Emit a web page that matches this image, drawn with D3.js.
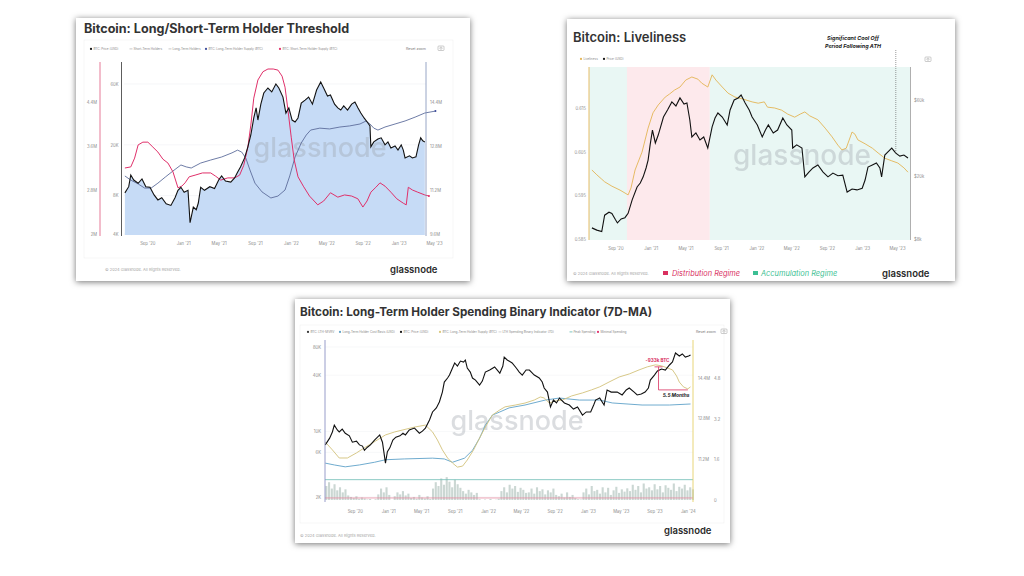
<!DOCTYPE html>
<html>
<head>
<meta charset="utf-8">
<script src="https://cdn.jsdelivr.net/npm/d3@7"></script>
<style>
  body { margin: 0; background: #fff; }
  svg { display: block; font-family: Inter, "Noto Sans", sans-serif; }
</style>
</head>
<body>
<svg id="chart" width="1024" height="576"></svg>
<script>
// ---------- panel 1 : Long/Short-Term Holder Threshold ----------
var p1Price = [["2020-06-17",8400],["2020-06-30",9400],["2020-07-07",11600],["2020-07-17",10600],["2020-08-01",10000],["2020-08-14",10800],["2020-08-27",9400],["2020-09-10",9300],["2020-09-24",8100],["2020-10-07",7400],["2020-10-20",7700],["2020-11-04",6900],["2020-11-20",6700],["2020-12-04",7700],["2020-12-14",8800],["2020-12-24",9300],["2021-01-04",8500],["2021-01-17",8800],["2021-01-24",4900],["2021-02-04",6500],["2021-02-14",6200],["2021-02-21",7000],["2021-03-01",9300],["2021-03-14",8800],["2021-04-01",9400],["2021-04-17",9100],["2021-05-01",10600],["2021-05-11",11400],["2021-05-24",10400],["2021-06-11",10200],["2021-06-24",11000],["2021-07-04",12200],["2021-07-14",13400],["2021-07-28",15800],["2021-08-08",19300],["2021-08-18",23900],["2021-08-28",32500],["2021-09-05",39000],["2021-09-11",31300],["2021-09-21",41700],["2021-10-01",51000],["2021-10-15",55800],["2021-10-28",52000],["2021-11-11",60000],["2021-11-21",55800],["2021-12-05",47400],["2021-12-15",35500],["2021-12-25",39000],["2022-01-05",31300],["2022-01-15",30200],["2022-01-25",32500],["2022-02-05",42500],["2022-02-18",44900],["2022-03-02",47400],["2022-03-15",41700],["2022-03-29",53800],["2022-04-12",62200],["2022-04-22",55800],["2022-05-05",48300],["2022-05-15",49200],["2022-05-29",41700],["2022-06-09",39000],["2022-06-19",37500],["2022-06-29",40400],["2022-07-12",37500],["2022-07-26",41700],["2022-08-06",43300],["2022-08-16",39000],["2022-08-26",35500],["2022-09-06",32500],["2022-09-19",29700],["2022-09-26",28100],["2022-09-29",19300],["2022-10-09",21100],["2022-10-23",22200],["2022-11-03",22700],["2022-11-16",20000],["2022-11-26",21100],["2022-12-06",18900],["2022-12-20",19600],["2022-12-30",18200],["2023-01-10",20000],["2023-01-17",18200],["2023-01-23",15800],["2023-02-07",16400],["2023-02-17",15800],["2023-03-01",16100],["2023-03-10",20000],["2023-03-17",22700],["2023-03-24",21500],["2023-03-31",21100]];
var p1LthSupply = [["2020-06-17",11.71],["2020-07-07",11.56],["2020-08-01",11.42],["2020-08-23",11.27],["2020-09-14",11.27],["2020-10-07",11.45],["2020-11-01",11.67],["2020-11-27",11.89],["2020-12-24",12.11],["2021-01-11",12.04],["2021-01-28",12.00],["2021-03-01",12.18],["2021-04-04",12.29],["2021-05-11",12.40],["2021-06-15",12.55],["2021-07-04",12.65],["2021-07-18",12.58],["2021-08-01",12.36],["2021-08-15",11.93],["2021-09-01",11.45],["2021-09-25",11.13],["2021-10-25",10.91],["2021-11-18",10.98],["2021-12-12",11.20],["2021-12-28",11.71],["2022-01-15",12.40],["2022-02-05",12.91],["2022-02-22",13.20],["2022-03-09",13.38],["2022-04-09",13.45],["2022-05-12",13.42],["2022-06-16",13.49],["2022-07-19",13.53],["2022-08-23",13.60],["2022-09-13",13.71],["2022-09-26",13.60],["2022-10-09",13.45],["2022-10-23",13.38],["2022-11-16",13.49],["2022-12-20",13.60],["2023-01-23",13.71],["2023-02-26",13.85],["2023-03-31",14.00],["2023-05-06",14.07]];
var p1SthSupply = [["2020-06-17",3.20],["2020-07-07",3.22],["2020-07-20",3.38],["2020-08-01",3.62],["2020-08-17",3.67],["2020-09-03",3.67],["2020-09-20",3.58],["2020-10-07",3.49],["2020-10-24",3.36],["2020-11-10",3.29],["2020-11-27",3.13],["2020-12-14",2.84],["2020-12-27",2.87],["2021-01-07",2.93],["2021-01-21",3.04],["2021-02-10",3.07],["2021-03-07",3.11],["2021-04-04",3.11],["2021-04-21",3.05],["2021-05-08",2.98],["2021-06-01",3.02],["2021-06-24",3.02],["2021-07-11",3.07],["2021-07-25",3.25],["2021-08-08",3.58],["2021-08-18",3.98],["2021-08-28",4.47],["2021-09-11",4.80],["2021-09-28",4.95],["2021-10-15",5.00],["2021-11-02",5.00],["2021-11-18",4.98],["2021-12-02",4.87],["2021-12-12",4.67],["2021-12-22",4.25],["2022-01-02",3.76],["2022-01-12",3.35],["2022-01-25",3.04],["2022-02-12",2.87],["2022-03-05",2.69],["2022-04-02",2.53],["2022-04-22",2.60],["2022-05-15",2.75],["2022-06-09",2.67],["2022-07-02",2.71],["2022-07-26",2.69],["2022-08-16",2.64],["2022-09-02",2.49],["2022-09-16",2.60],["2022-09-29",2.76],["2022-10-16",2.85],["2022-10-30",2.93],["2022-11-16",2.87],["2022-12-06",2.76],["2022-12-26",2.64],["2023-01-17",2.56],["2023-01-27",2.53],["2023-02-03",2.85],["2023-02-17",2.80],["2023-03-07",2.76],["2023-03-31",2.71],["2023-04-14",2.69]];
var p1DateTicks = ["2020-09-01","2021-01-01","2021-05-01","2021-09-01","2022-01-01","2022-05-01","2022-09-01","2023-01-01","2023-05-01"];
var p1PriceTicks = [4000, 8000, 20000, 60000];
var p1SthTicks = [2, 2.8, 3.6, 4.4];
var p1LthTicks = [9.6, 11.2, 12.8, 14.4];

// ---------- panel 2 : Liveliness ----------
var p2Price = [["2020-06-12",9400],["2020-06-29",9100],["2020-07-16",8900],["2020-07-26",11300],["2020-08-10",11800],["2020-08-20",11600],["2020-09-01",10600],["2020-09-08",10100],["2020-09-21",10700],["2020-10-04",10900],["2020-10-15",11600],["2020-10-29",14100],["2020-11-15",17000],["2020-11-26",18000],["2020-12-06",19700],["2020-12-16",22400],["2020-12-23",25100],["2020-12-30",31300],["2021-01-07",38800],["2021-01-17",32200],["2021-01-27",36100],["2021-02-14",46900],["2021-02-28",51900],["2021-03-15",58300],["2021-03-29",55000],["2021-04-12",61800],["2021-04-26",56600],["2021-05-06",57500],["2021-05-16",44900],["2021-05-23",35100],["2021-06-06",37200],["2021-06-20",33600],["2021-07-03",35100],["2021-07-17",29900],["2021-08-01",40600],["2021-08-11",46200],["2021-08-21",49700],["2021-09-05",46900],["2021-09-22",41800],["2021-10-02",51900],["2021-10-16",60000],["2021-10-30",61800],["2021-11-09",64500],["2021-11-23",57500],["2021-12-07",51900],["2021-12-17",46900],["2022-01-04",41800],["2022-01-21",35100],["2022-02-01",38800],["2022-02-11",41800],["2022-02-28",37200],["2022-03-15",38800],["2022-04-02",46200],["2022-04-16",41800],["2022-05-03",38800],["2022-05-06",29900],["2022-05-20",31300],["2022-06-07",29900],["2022-06-17",19700],["2022-07-01",21100],["2022-07-15",22400],["2022-08-01",23400],["2022-08-19",21100],["2022-09-05",19700],["2022-09-22",20800],["2022-10-09",20000],["2022-10-26",20200],["2022-11-10",15800],["2022-11-27",16500],["2022-12-14",16300],["2023-01-01",16700],["2023-01-11",18800],["2023-01-21",22700],["2023-02-05",23400],["2023-02-19",24100],["2023-03-03",22400],["2023-03-09",19700],["2023-03-20",27000],["2023-03-30",28200],["2023-04-13",29900],["2023-04-27",27800],["2023-05-11",26600],["2023-05-25",27000],["2023-06-08",25900]];
var p2Liveliness = [["2020-06-12",0.6008],["2020-06-29",0.5997],["2020-07-16",0.5987],["2020-07-26",0.5981],["2020-08-20",0.5971],["2020-09-17",0.5962],["2020-10-15",0.5951],["2020-10-25",0.5967],["2020-11-08",0.6008],["2020-12-02",0.6049],["2020-12-23",0.6104],["2021-01-09",0.6139],["2021-01-27",0.6157],["2021-02-20",0.6175],["2021-03-07",0.6182],["2021-03-24",0.6191],["2021-04-12",0.6198],["2021-05-02",0.6214],["2021-05-23",0.6221],["2021-06-13",0.6216],["2021-06-26",0.6207],["2021-07-17",0.6198],["2021-08-01",0.6226],["2021-08-14",0.6214],["2021-09-05",0.6198],["2021-09-25",0.6184],["2021-10-19",0.6175],["2021-11-13",0.6171],["2021-12-17",0.6164],["2022-01-07",0.6161],["2022-01-28",0.6164],["2022-02-08",0.6152],["2022-03-05",0.6150],["2022-03-29",0.6145],["2022-04-19",0.6136],["2022-05-13",0.6129],["2022-06-01",0.6136],["2022-06-17",0.6141],["2022-07-04",0.6132],["2022-08-01",0.6123],["2022-08-26",0.6104],["2022-09-19",0.6084],["2022-10-09",0.6065],["2022-10-23",0.6054],["2022-11-07",0.6058],["2022-11-27",0.6095],["2022-12-07",0.6090],["2022-12-17",0.6077],["2023-01-11",0.6068],["2023-02-05",0.6058],["2023-02-25",0.6047],["2023-03-20",0.6035],["2023-04-13",0.6029],["2023-05-04",0.6024],["2023-05-25",0.6013],["2023-06-08",0.6003]];
var p2RegimeStart = ["2020-06-02", "2020-10-11", "2021-07-24"];
var p2RegimeEnd = ["2020-10-11", "2021-07-24", "2023-06-15"];
var p2RegimeType = ["accumulation", "distribution", "accumulation"];
var p2CoolOffDate = "2023-04-27";
var p2DateTicks = p1DateTicks;
var p2LiveTicks = [0.585, 0.595, 0.605, 0.615];
var p2PriceTicks = [8000, 20000, 60000];

// ---------- panel 3 : LTH Spending Binary Indicator ----------
var p3Price = [["2020-05-16",7200],["2020-06-01",8500],["2020-06-11",9900],["2020-06-18",11700],["2020-06-29",10400],["2020-07-06",9900],["2020-07-17",10600],["2020-07-28",9600],["2020-08-12",9000],["2020-08-23",7700],["2020-09-07",7900],["2020-09-18",7200],["2020-09-29",7000],["2020-10-06",6300],["2020-10-17",6800],["2020-10-28",7200],["2020-11-12",8100],["2020-12-01",9200],["2020-12-11",7700],["2020-12-22",4600],["2020-12-29",6100],["2021-01-07",6700],["2021-01-18",8100],["2021-01-29",8700],["2021-02-13",9000],["2021-02-24",9600],["2021-03-05",9200],["2021-03-19",10400],["2021-04-07",10900],["2021-04-25",9600],["2021-05-06",10100],["2021-05-17",10900],["2021-06-01",13300],["2021-06-12",16200],["2021-06-26",17900],["2021-07-07",20700],["2021-07-18",26400],["2021-07-25",33800],["2021-08-06",37300],["2021-08-13",40100],["2021-08-24",47700],["2021-09-01",54000],["2021-09-11",50100],["2021-09-22",56600],["2021-10-03",55300],["2021-10-10",58100],["2021-10-17",47700],["2021-10-28",43200],["2021-11-05",37300],["2021-11-16",35500],["2021-12-01",31400],["2021-12-11",34600],["2021-12-22",43200],["2022-01-07",45400],["2022-01-25",48900],["2022-02-13",42100],["2022-02-24",50100],["2022-03-01",62500],["2022-03-12",58100],["2022-03-30",54000],["2022-04-14",47700],["2022-04-25",43200],["2022-05-06",40100],["2022-05-20",45400],["2022-06-01",45400],["2022-06-19",40100],["2022-07-07",37300],["2022-07-18",33800],["2022-07-25",29200],["2022-08-06",26400],["2022-08-17",18300],["2022-08-28",21700],["2022-09-08",20200],["2022-09-19",22800],["2022-10-07",20200],["2022-10-25",19200],["2022-11-09",17400],["2022-11-24",18300],["2022-12-12",15000],["2022-12-26",16200],["2023-01-11",16200],["2023-01-22",19200],["2023-01-29",21700],["2023-02-13",22800],["2023-03-01",19200],["2023-03-12",27800],["2023-03-27",26400],["2023-04-18",26400],["2023-05-06",24600],["2023-05-21",27800],["2023-06-01",29200],["2023-06-19",26400],["2023-06-30",24600],["2023-07-15",25200],["2023-07-29",26400],["2023-08-10",29200],["2023-08-17",35500],["2023-09-01",40100],["2023-09-12",44300],["2023-09-27",46600],["2023-10-11",45400],["2023-10-26",51400],["2023-11-06",55300],["2023-11-17",69100],["2023-12-01",64100],["2023-12-12",67400],["2023-12-23",62500],["2024-01-04",64100],["2024-01-11",65700]];
var p3CostBasis = [["2020-05-16",4600],["2020-06-18",4400],["2020-07-28",4200],["2020-09-18",4400],["2020-11-12",4700],["2020-12-22",5000],["2021-03-01",5100],["2021-06-12",5200],["2021-07-25",5100],["2021-08-24",4700],["2021-10-07",5200],["2021-11-05",6300],["2021-12-01",8500],["2021-12-22",11700],["2022-01-17",15000],["2022-02-13",16200],["2022-03-19",17900],["2022-05-16",19200],["2022-07-29",21700],["2022-09-19",22800],["2022-12-01",21700],["2023-02-13",21700],["2023-03-31",20200],["2023-07-18",19200],["2023-10-26",19200],["2024-01-11",19700]];
var p3LthSupply = [["2020-05-16",11.87],["2020-06-11",11.56],["2020-07-06",11.24],["2020-08-05",11.24],["2020-09-07",11.44],["2020-10-10",11.67],["2020-11-16",11.91],["2020-12-22",12.15],["2021-01-25",12.27],["2021-02-24",12.35],["2021-04-07",12.46],["2021-05-17",12.54],["2021-06-12",12.27],["2021-06-30",11.95],["2021-07-18",11.56],["2021-08-06",11.24],["2021-08-24",11.04],["2021-09-11",10.88],["2021-09-30",10.92],["2021-10-17",11.16],["2021-11-09",11.56],["2021-12-01",12.03],["2021-12-26",12.54],["2022-01-17",12.94],["2022-02-13",13.14],["2022-03-04",13.26],["2022-04-10",13.33],["2022-05-16",13.41],["2022-06-19",13.53],["2022-07-11",13.65],["2022-07-25",13.61],["2022-08-13",13.41],["2022-09-04",13.49],["2022-09-30",13.53],["2022-11-02",13.69],["2022-12-12",13.81],["2023-01-14",13.93],["2023-02-13",14.05],["2023-03-19",14.24],["2023-04-25",14.44],["2023-06-01",14.56],["2023-07-07",14.72],["2023-08-06",14.84],["2023-09-05",14.92],["2023-09-27",14.88],["2023-10-18",14.80],["2023-11-06",14.72],["2023-11-21",14.48],["2023-12-01",14.24],["2023-12-16",14.05],["2024-01-01",13.97],["2024-01-11",14.05]];
// spending indicator, one value every 10 days from the first date
var p3IndicatorStart = "2020-05-16";
var p3IndicatorStepDays = 10;
var p3Indicator = [0.55,0.7,0.45,0.62,0.38,0.5,0.3,0.42, 0.18,0.12, 0.08,0.15,0.05,0.1,0.06, 0.02,0.04,0.0,0.03, 0.22,0.45,0.3,0.5,0.2, 0.0, 0.15,0.3,0.22,0.35,0.18,0.25, 0.08,0.12,0.05,0.2,0.1,0.06,0.15,0.04, 0.45,0.7,0.55,0.85,0.6,0.9,0.72,0.5,0.8,0.62,0.48, 0.35,0.25,0.4,0.3,0.2,0.28, 0.03,0.0,0.02,0.0,0.04,0.0,0.01,0.05, 0.35,0.5,0.3,0.6,0.45,0.55,0.32,0.48,0.4,0.28, 0.3,0.45,0.25,0.5,0.35,0.42,0.22,0.38,0.3,0.45,0.2, 0.15,0.25,0.1,0.3,0.12,0.2,0.08, 0.03,0.02, 0.3,0.45,0.22,0.55,0.35,0.4,0.25,0.5,0.3,0.48,0.2,0.38,0.52,0.28,0.42,0.33,0.46, 0.35,0.6,0.4,0.55,0.3,0.65,0.45,0.5,0.38,0.62,0.42,0.55,0.3,0.58,0.48,0.4,0.65,0.35,0.52,0.45,0.6,0.38,0.5,0.42];
var p3PeakSpending = 0.8;
var p3MinimalSpending = 0.08;
var p3DrawdownDates = ["2023-09-16", "2024-01-01"];
var p3DrawdownSupply = [14.84, 13.93];
var p3DrawdownLabel = "-933k BTC";
var p3DurationLabel = "5.5 Months";
var p3DateTicks = ["2020-09-01","2021-01-01","2021-05-01","2021-09-01","2022-01-01","2022-05-01","2022-09-01","2023-01-01","2023-05-01","2023-09-01","2024-01-01"];
var p3PriceTicks = [2000, 6000, 10000, 40000, 80000];
var p3SupplyTicks = [11.2, 12.8, 14.4];
var p3IndTicks = [0, 1.6, 3.2, 4.8];

// ---------------------------------------------------------------
var parse = d3.timeParse("%Y-%m-%d");
var fmtMonth = d3.timeFormat("%b '%y");
var fmtK = function (v) { return (v / 1000) + "K"; };
var fmtM = function (v) { return v + "M"; };

var svg = d3.select("#chart");
var defs = svg.append("defs");
var shadow = defs.append("filter").attr("id", "shadow")
  .attr("x", "-10%").attr("y", "-10%").attr("width", "120%").attr("height", "120%");
shadow.append("feDropShadow").attr("dx", 0).attr("dy", 1).attr("stdDeviation", 3)
  .attr("flood-color", "#000").attr("flood-opacity", 0.55);

function card(x, y, w, h) {
  svg.append("rect").attr("x", x).attr("y", y).attr("width", w).attr("height", h)
    .attr("fill", "#fff").attr("filter", "url(#shadow)");
  return svg.append("g");
}

function title(g, x, y, size, weight, txt) {
  g.append("text").attr("x", x).attr("y", y).attr("font-size", size)
    .attr("font-weight", weight).attr("fill", "#333").text(txt);
}

function legend(g, items, y) {
  var it = g.selectAll("g.lg").data(items).join("g").attr("class", "lg")
    .attr("transform", function (d) { return "translate(" + d.x + "," + y + ")"; });
  it.filter(function (d) { return d.kind === "dot"; }).append("circle")
    .attr("cy", -1.1).attr("r", 1.1).attr("fill", function (d) { return d.color; });
  it.filter(function (d) { return d.kind === "dash"; }).append("line")
    .attr("x1", -1.5).attr("x2", 1.5).attr("y1", -1.1).attr("y2", -1.1)
    .attr("stroke", function (d) { return d.color; }).attr("stroke-width", 0.8);
  it.append("text").attr("x", 2.4).attr("font-size", 3.1).attr("fill", "#888")
    .text(function (d) { return d.text; });
}

function camera(g, x, y) {
  g.append("rect").attr("x", x - 3).attr("y", y - 3).attr("width", 6).attr("height", 4.5)
    .attr("rx", 0.8).attr("fill", "none").attr("stroke", "#999").attr("stroke-width", 0.5);
  g.append("circle").attr("cx", x).attr("cy", y - 0.8).attr("r", 1.1)
    .attr("fill", "none").attr("stroke", "#999").attr("stroke-width", 0.5);
}

function styleAxis(a, size) {
  a.select(".domain").remove();
  a.selectAll("text").attr("font-size", size).attr("fill", "#8a8a8a")
    .attr("font-family", "Inter, 'Noto Sans', sans-serif");
}

function bottomAxis(g, x, ticks, y) {
  var a = g.append("g").attr("transform", "translate(0," + y + ")")
    .call(d3.axisBottom(x).tickValues(ticks.map(parse)).tickFormat(fmtMonth).tickSize(0).tickPadding(0));
  styleAxis(a, 4.2);
}

function sideAxis(g, kind, scale, ticks, fmt, x, pad) {
  var ax = (kind === "left" ? d3.axisLeft(scale) : d3.axisRight(scale))
    .tickValues(ticks).tickFormat(fmt).tickSize(0).tickPadding(pad);
  var a = g.append("g").attr("transform", "translate(" + x + ",0)").call(ax);
  styleAxis(a, 4.2);
}

function vline(g, x, y0, y1, color, w) {
  g.append("line").attr("x1", x).attr("x2", x).attr("y1", y0).attr("y2", y1)
    .attr("stroke", color).attr("stroke-width", w || 1);
}

function watermark(g, cx, cy, size) {
  g.append("text").attr("x", cx).attr("y", cy).attr("text-anchor", "middle")
    .attr("font-size", size).attr("font-weight", 500).attr("fill", "#9aa0a8")
    .attr("opacity", 0.35).text("glassnode");
}

function footer(g, x, y, lx, ly) {
  g.append("text").attr("x", x).attr("y", y).attr("font-size", 4).attr("fill", "#a5a5a5")
    .text("\u00a9 2024 Glassnode. All Rights Reserved.");
  g.append("text").attr("x", lx).attr("y", ly).attr("font-size", 9.5).attr("font-weight", 600)
    .attr("fill", "#2a2a2a").text("glassnode");
}

function lineOf(x, y) {
  return d3.line().x(function (d) { return x(parse(d[0])); }).y(function (d) { return y(d[1]); });
}

// ======================= PANEL 1 =======================
(function () {
  var g = card(76, 18, 394, 263);
  g.append("rect").attr("x", 84).attr("y", 40).attr("width", 369).attr("height", 218)
    .attr("fill", "none").attr("stroke", "#f0f0f0").attr("stroke-width", 0.6);
  title(g, 84, 33, 12.6, 700, "Bitcoin: Long/Short-Term Holder Threshold");
  legend(g, [
    { x: 91, kind: "dot", color: "#111", text: "BTC: Price (USD)" },
    { x: 131, kind: "dash", color: "#bbb", text: "Short-Term Holders" },
    { x: 170, kind: "dash", color: "#bbb", text: "Long-Term Holders" },
    { x: 206, kind: "dot", color: "#3b4a9a", text: "BTC: Long-Term Holder Supply (BTC)" },
    { x: 280, kind: "dot", color: "#e0306a", text: "BTC: Short-Term Holder Supply (BTC)" }
  ], 50);
  g.append("text").attr("x", 406).attr("y", 50).attr("font-size", 3.6).attr("fill", "#777").text("Reset zoom");
  camera(g, 441, 49);

  var x = d3.scaleTime().domain([parse("2020-06-14"), parse("2023-04-04")]).range([124, 426]);
  var yPrice = d3.scaleLog().domain([4000, 60000]).range([234, 84]);
  var ySth = d3.scaleLinear().domain([2, 4.4]).range([234, 102]);
  var yLth = d3.scaleLinear().domain([9.6, 14.4]).range([234, 102]);

  g.append("g").selectAll("line").data(p1PriceTicks).join("line")
    .attr("x1", 124).attr("x2", 426)
    .attr("y1", function (d) { return yPrice(d); }).attr("y2", function (d) { return yPrice(d); })
    .attr("stroke", "#eef0f3").attr("stroke-width", 0.6);

  g.append("path").datum(p1Price)
    .attr("d", d3.area().x(function (d) { return x(parse(d[0])); }).y0(235).y1(function (d) { return yPrice(d[1]); }))
    .attr("fill", "#c6dbf6");

  watermark(g, 320, 157, 27);

  g.append("path").datum(p1LthSupply).attr("d", lineOf(x, yLth))
    .attr("fill", "none").attr("stroke", "#5d6d9c").attr("stroke-width", 0.9);
  g.append("path").datum(p1SthSupply).attr("d", lineOf(x, ySth))
    .attr("fill", "none").attr("stroke", "#e0306a").attr("stroke-width", 1);
  g.append("path").datum(p1Price).attr("d", lineOf(x, yPrice))
    .attr("fill", "none").attr("stroke", "#111").attr("stroke-width", 1.1);

  var lastL = p1LthSupply[p1LthSupply.length - 1];
  g.append("circle").attr("cx", x(parse(lastL[0]))).attr("cy", yLth(lastL[1])).attr("r", 1)
    .attr("fill", "#3b4a9a");
  var lastS = p1SthSupply[p1SthSupply.length - 1];
  g.append("circle").attr("cx", x(parse(lastS[0]))).attr("cy", ySth(lastS[1])).attr("r", 1)
    .attr("fill", "#e0306a");

  vline(g, 100, 62, 236, "#e0587f", 0.8);
  vline(g, 121.5, 62, 236, "#333", 0.8);
  vline(g, 426, 62, 236, "#7f8fb8", 0.8);

  sideAxis(g, "left", ySth, p1SthTicks, fmtM, 100, 3);
  sideAxis(g, "left", yPrice, p1PriceTicks, fmtK, 121, 2.5);
  sideAxis(g, "right", yLth, p1LthTicks, fmtM, 426, 4);
  bottomAxis(g, x, p1DateTicks, 242);

  footer(g, 105, 271, 390, 273);
})();

// ======================= PANEL 2 =======================
(function () {
  var g = card(567, 19, 388, 262);
  title(g, 573, 42, 13, 600, "Bitcoin: Liveliness");
  g.append("text").attr("x", 853).attr("y", 40).attr("text-anchor", "middle").attr("font-size", 5.4)
    .attr("font-weight", 700).attr("font-style", "italic").attr("fill", "#222").text("Significant Cool Off");
  g.append("text").attr("x", 853).attr("y", 47.5).attr("text-anchor", "middle").attr("font-size", 5.4)
    .attr("font-weight", 700).attr("font-style", "italic").attr("fill", "#222").text("Period Following ATH");
  legend(g, [
    { x: 581, kind: "dot", color: "#e3b455", text: "Liveliness" },
    { x: 604, kind: "dot", color: "#111", text: "Price (USD)" }
  ], 60);
  camera(g, 928, 60);

  var x = d3.scaleTime().domain([parse("2020-06-02"), parse("2023-06-15")]).range([589, 910]);
  var yLive = d3.scaleLinear().domain([0.585, 0.615]).range([239, 108]);
  var yPrice = d3.scaleLog().domain([8000, 60000]).range([239, 100]);

  var regimeColor = { accumulation: "#e9f7f4", distribution: "#fde9ec" };
  g.append("g").selectAll("rect").data(p2RegimeType).join("rect")
    .attr("x", function (d, i) { return x(parse(p2RegimeStart[i])); })
    .attr("width", function (d, i) { return x(parse(p2RegimeEnd[i])) - x(parse(p2RegimeStart[i])); })
    .attr("y", 67).attr("height", 173)
    .attr("fill", function (d) { return regimeColor[d]; });

  watermark(g, 802, 165, 28);

  g.append("path").datum(p2Liveliness).attr("d", lineOf(x, yLive))
    .attr("fill", "none").attr("stroke", "#e3b455").attr("stroke-width", 0.9);
  g.append("path").datum(p2Price).attr("d", lineOf(x, yPrice))
    .attr("fill", "none").attr("stroke", "#111").attr("stroke-width", 1.1);

  var cd = parse(p2CoolOffDate);
  var cp = p2Price.find(function (d) { return d[0] === p2CoolOffDate; });
  g.append("line").attr("x1", x(cd)).attr("x2", x(cd)).attr("y1", 50).attr("y2", yPrice(cp[1]))
    .attr("stroke", "#555").attr("stroke-width", 0.6).attr("stroke-dasharray", "1,1");

  vline(g, 589, 67, 240, "#e3b455", 0.9);
  vline(g, 910.5, 67, 240, "#9a9a9a", 0.8);

  sideAxis(g, "left", yLive, p2LiveTicks, d3.format(".3f"), 589, 3);
  sideAxis(g, "right", yPrice, p2PriceTicks, function (v) { return "$" + (v / 1000) + "k"; }, 910, 4);
  bottomAxis(g, x, p2DateTicks, 247);

  g.append("text").attr("x", 573).attr("y", 275).attr("font-size", 4).attr("fill", "#a5a5a5")
    .text("\u00a9 2024 Glassnode. All Rights Reserved.");
  g.append("rect").attr("x", 663).attr("y", 271).attr("width", 5).attr("height", 4).attr("fill", "#d9305f");
  g.append("text").attr("x", 672).attr("y", 276).attr("font-size", 7.4).attr("font-style", "italic")
    .attr("fill", "#d9305f").text("Distribution Regime");
  g.append("rect").attr("x", 753).attr("y", 271).attr("width", 5).attr("height", 4).attr("fill", "#3cbf94");
  g.append("text").attr("x", 761).attr("y", 276).attr("font-size", 7.4).attr("font-style", "italic")
    .attr("fill", "#3cbf94").text("Accumulation Regime");
  g.append("text").attr("x", 882).attr("y", 277).attr("font-size", 9.5).attr("font-weight", 600)
    .attr("fill", "#2a2a2a").text("glassnode");
})();

// ======================= PANEL 3 =======================
(function () {
  var g = card(295, 299, 435, 244);
  g.append("rect").attr("x", 300).attr("y", 325).attr("width", 424).attr("height", 198)
    .attr("fill", "none").attr("stroke", "#f0f0f0").attr("stroke-width", 0.6);
  title(g, 300, 316, 11.7, 700, "Bitcoin: Long-Term Holder Spending Binary Indicator (7D-MA)");
  legend(g, [
    { x: 308, kind: "dot", color: "#333", text: "BTC: LTH-MVRV" },
    { x: 340, kind: "dot", color: "#5fa2c8", text: "Long-Term Holder Cost Basis (USD)" },
    { x: 401, kind: "dot", color: "#111", text: "BTC: Price (USD)" },
    { x: 440, kind: "dot", color: "#d9c77a", text: "BTC: Long-Term Holder Supply (BTC)" },
    { x: 500, kind: "dash", color: "#ccc", text: "LTH Spending Binary Indicator (7D)" },
    { x: 571, kind: "dash", color: "#5fb8b0", text: "Peak Spending" },
    { x: 598, kind: "dot", color: "#e0306a", text: "Minimal Spending" }
  ], 333);
  g.append("text").attr("x", 696).attr("y", 333).attr("font-size", 3.6).attr("fill", "#777").text("Reset zoom");
  camera(g, 724, 332);

  var x = d3.scaleTime().domain([parse("2020-05-15"), parse("2024-01-20")]).range([325, 693]);
  var yPrice = d3.scaleLog().domain([2000, 80000]).range([497, 347]);
  var ySupply = d3.scaleLinear().domain([11.2, 14.4]).range([459, 378]);
  var yInd = d3.scaleLinear().domain([0, 4.8]).range([500, 378]);

  g.append("g").selectAll("line").data(p3PriceTicks).join("line")
    .attr("x1", 325).attr("x2", 693)
    .attr("y1", function (d) { return yPrice(d); }).attr("y2", function (d) { return yPrice(d); })
    .attr("stroke", "#f2f3f5").attr("stroke-width", 0.6);

  var start = parse(p3IndicatorStart);
  g.append("g").selectAll("rect").data(p3Indicator).join("rect")
    .attr("x", function (d, i) { return x(d3.timeDay.offset(start, i * p3IndicatorStepDays)); })
    .attr("width", 2.1)
    .attr("y", function (d) { return yInd(d); })
    .attr("height", function (d) { return yInd(0) - yInd(d); })
    .attr("fill", "#cbd7d3");

  watermark(g, 517, 430, 27);

  g.append("line").attr("x1", 325).attr("x2", 693).attr("y1", yInd(p3PeakSpending)).attr("y2", yInd(p3PeakSpending))
    .attr("stroke", "#6dbdb5").attr("stroke-width", 0.8);
  g.append("line").attr("x1", 325).attr("x2", 693).attr("y1", yInd(p3MinimalSpending)).attr("y2", yInd(p3MinimalSpending))
    .attr("stroke", "#e48aa0").attr("stroke-width", 0.8);

  g.append("path").datum(p3CostBasis).attr("d", lineOf(x, yPrice))
    .attr("fill", "none").attr("stroke", "#5fa2c8").attr("stroke-width", 0.9);
  g.append("path").datum(p3LthSupply).attr("d", lineOf(x, ySupply))
    .attr("fill", "none").attr("stroke", "#d3c27a").attr("stroke-width", 0.9);
  g.append("path").datum(p3Price).attr("d", lineOf(x, yPrice))
    .attr("fill", "none").attr("stroke", "#111").attr("stroke-width", 1.1);

  // drawdown annotation
  var ax0 = x(parse(p3DrawdownDates[0])), ax1 = x(parse(p3DrawdownDates[1]));
  var ay0 = ySupply(p3DrawdownSupply[0]), ay1 = ySupply(p3DrawdownSupply[1]);
  var red = "#d9305f";
  g.append("line").attr("x1", ax0 - 4).attr("x2", ax0 + 4).attr("y1", ay0).attr("y2", ay0).attr("stroke", red).attr("stroke-width", 0.8);
  g.append("line").attr("x1", ax0).attr("x2", ax0).attr("y1", ay0).attr("y2", ay1).attr("stroke", red).attr("stroke-width", 0.8);
  g.append("line").attr("x1", ax0).attr("x2", ax1).attr("y1", ay1).attr("y2", ay1).attr("stroke", red).attr("stroke-width", 0.8);
  g.append("text").attr("x", ax0 - 1).attr("y", ay0 - 5).attr("text-anchor", "middle").attr("font-size", 4.6)
    .attr("font-weight", 700).attr("fill", red).text(p3DrawdownLabel);
  g.append("text").attr("x", (ax0 + ax1) / 2 + 3).attr("y", ay1 + 7).attr("text-anchor", "middle").attr("font-size", 4.8)
    .attr("font-weight", 700).attr("font-style", "italic").attr("fill", "#222").text(p3DurationLabel);

  vline(g, 325, 340, 502, "#8c92c4", 0.9);
  vline(g, 693, 340, 502, "#e5d06a", 0.9);

  sideAxis(g, "left", yPrice, p3PriceTicks, fmtK, 325, 4);
  sideAxis(g, "right", ySupply, p3SupplyTicks, fmtM, 693, 5);
  sideAxis(g, "right", yInd, p3IndTicks, function (v) { return String(v); }, 693, 21);
  bottomAxis(g, x, p3DateTicks, 510);

  footer(g, 300, 537, 664, 534);
})();
</script>
</body>
</html>
